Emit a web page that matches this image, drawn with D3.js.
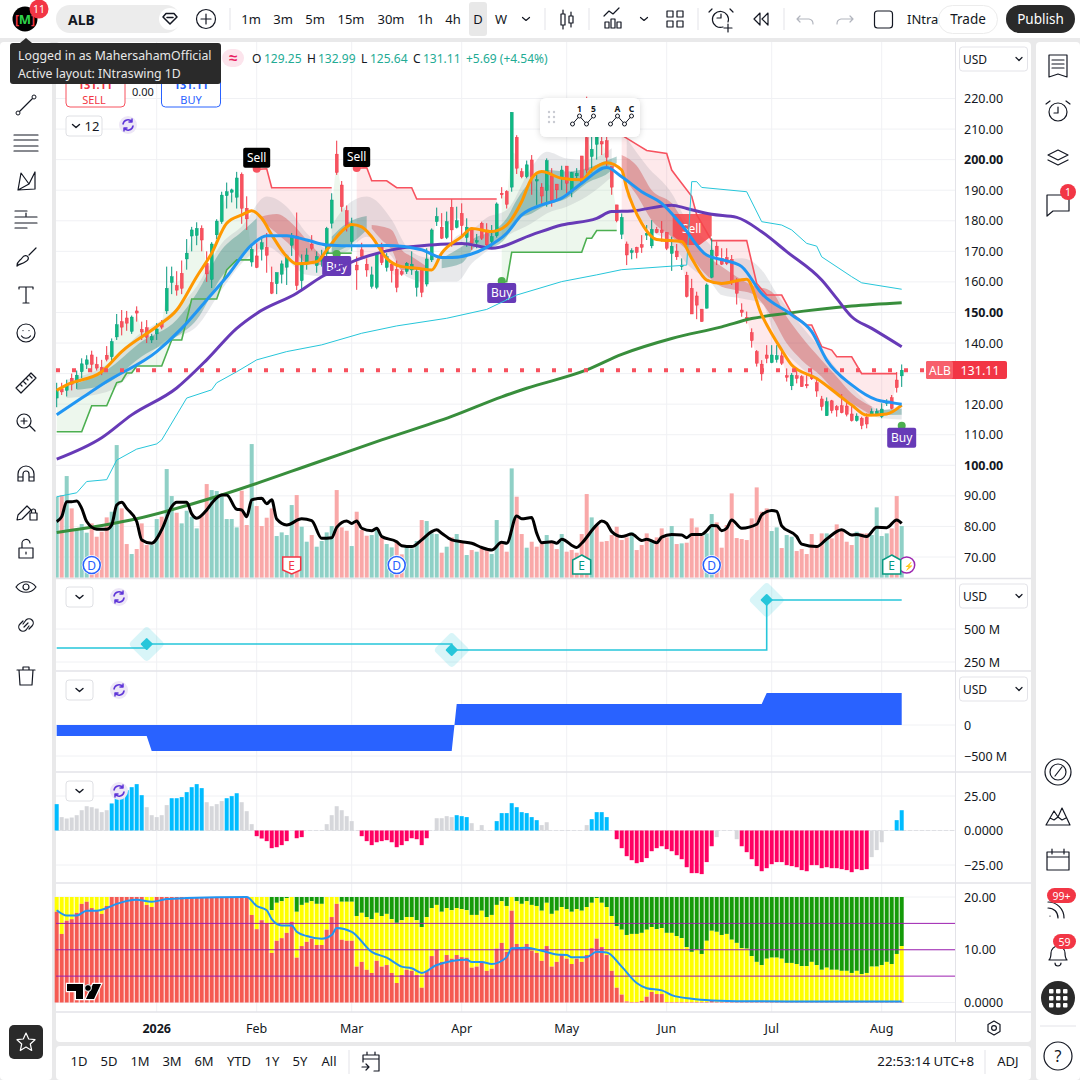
<!DOCTYPE html>
<html>
<head>
<meta charset="utf-8">
<script src="https://d3js.org/d3.v7.min.js"></script>
<style>
	body { margin: 0; background: #e9e9ea; }
	svg { display: block; font-family: "Noto Sans", sans-serif; }
</style>
</head>
<body>
<div id="canvas"></div>
<script>
// Candles, one value per trading day
const opens = [
	122,125,124.5,128.5,127,130.6,133,136.1,133,132,
	136,135.5,142,147,148.2,143.8,150.5,144.5,145,141,
	143,146.5,150.5,159.8,158.8,162.8,167.5,175,175.2,177.5,
	166.1,160.8,175.4,179.7,188.2,189.3,187.7,195.2,184.1,166.5,
	168.5,170.7,171.3,159.8,159.4,162.5,164.8,172,175,160.4,
	166,172.4,165.3,166.8,169.4,179.2,201.8,191.7,183.3,173.2,
	165.5,170.5,165.8,158.5,158.2,171.5,164.7,165.8,164.1,163.4,
	163.4,163.9,158.2,163.9,159.3,167.2,179.7,177.9,174.5,184.4,
	177.8,182.4,174.5,177,173,179.2,176.1,173.2,175.1,189,
	189.6,191,207.3,196.1,194.4,199.9,193,191,189.9,194.7,
	192,194.2,197.9,189.5,194.7,201.2,207.2,201,205,205.9,
	206.2,197.7,185.2,175.6,172.4,169.6,171.3,172.2,175.3,171.8,
	177.2,177,176.2,169.3,170.1,165,162.2,157.9,155.4,151.1,
	151.4,161.5,171.7,167.7,168,167.4,160.3,150.8,148.4,143.4,
	137.2,133.1,136.1,133.6,134.6,135.8,129.3,126,129.3,129,
	126.5,129,127,121.7,116.2,121.1,119.2,119.5,119.4,116.8,
	114.6,115.4,115.7,116.3,116.4,115.9,120.3,122.1,127.9,129.25]
const highs = [
	127,127,128,130,131,135,136,137.5,135.5,134.5,
	139,141.5,149.5,150.8,150.5,149,152,147,147.5,143,
	146.5,147.5,165,165,163.5,167,174,178,179.5,178.5,
	170,173,180.5,189.5,192.5,190.5,196,195.8,188,172,
	172.6,175,176,165,163,167,169,176,182.7,169,
	171,175.3,170,170.5,178,189,206.2,193,185,181,
	168.3,172.8,167.7,165,169.4,172.8,169.4,166,167,164,
	166.5,170,164.5,164.5,171,177.5,184.3,182.5,183,187,
	184.6,185.7,180.8,177,175.7,179.7,179.2,178.6,186,191,
	190,215.5,208,197.2,199.7,201.5,195.5,192.3,200.4,197.2,
	192,198,197.9,196,197.2,201.2,220.6,208.6,212,209,
	207.5,197.7,185.2,182.4,173.2,171,171.5,175.3,178.6,180.2,
	178,179.9,176.2,174.8,172.4,167.7,163.3,161,156.8,151.1,
	159.5,174.2,173.2,171,171,168.8,161.2,153,150.3,144.8,
	137.7,134.4,139.3,139.3,139.3,137.2,131.7,130.2,131.4,129.5,
	129.5,130.6,128.4,122.7,122.2,121.4,119.7,123.3,120.8,119.4,
	117,115.9,117,118.6,118.6,120.3,121.6,123,130.5,132.99]
const lows = [
	119,123,122.5,124.5,125,128.5,131.5,130.5,131,129.5,
	134,134,141,142.5,144,143,147,141,140,140,
	141,144.5,149.5,156,155.5,156,164,170,172,170,
	160,158,174,179,184,186,184,179,177,165,
	164.5,167,163,156,156,159.5,159,168.5,157.3,157,
	164,170.3,163,165,166,177.5,195,183,176.5,170,
	157.4,167.7,161.7,157.8,157.6,165.5,163.4,159.8,156.6,162,
	162.6,162.3,155.2,155,158.5,166.5,178.3,174,174,171.5,
	177.5,174.8,171.5,170.5,171,173.7,170.7,171.5,174.5,187.3,
	184,189.5,195.3,193.9,193.9,188.5,185.2,185.2,184.6,184.6,
	187,190.1,188,187.7,193.9,192.5,195.5,195.8,200,201.5,
	197.5,188.5,179.5,174,165.5,167.4,167.7,169.5,173.7,171,
	175.9,173.2,170.4,163.6,167.2,163.9,154.9,149.5,147.8,147,
	151.3,161.2,165.5,165.5,165.5,159,152.6,148.6,146.4,138.5,
	132.3,127.7,133.4,133.4,133.6,132.8,127.4,124.6,126.8,125.7,
	125.2,127.9,122.4,117.9,116.2,117,115.9,117,116,114.3,
	114.3,111.8,112.1,116.1,116.1,115.4,119.4,118.3,123.8,125.64]
const closes = [
	124.5,124,126.5,126.5,129.5,133.2,134.5,133,131.8,130.7,
	134.7,140.5,146,145.2,146.5,148.5,149.8,143.6,141.9,142.1,
	144.6,145.2,157.9,161.7,157.3,157.9,169.4,177,177.5,173.7,
	162.6,172.4,179.9,188.4,189.5,190.1,194,184.1,180.6,170.7,
	164.7,172.8,168.7,156.3,163.1,165.9,168.5,175.1,158.8,166.1,
	168.8,171,168.3,168.3,177.5,186.8,195.8,184.6,178.1,178.3,
	163.9,168.3,163.9,162.3,169.4,166.3,168.3,163.7,158.2,162.5,
	166.1,165.8,163.4,156.6,167.5,177,181.4,174.3,179.7,177,
	180,178.4,177.9,172.6,173.5,174.3,172.1,174.8,185.5,188.5,
	185.4,215.5,197.2,194.4,198.3,194.2,193.5,188.1,199.7,186.6,
	190.1,196.6,192.3,195.8,195.5,192.5,196.6,203.4,210,205.1,
	200.8,191,180,181.1,168.8,170.2,169.6,171.3,175.9,177.2,
	176.1,176.1,171,171.7,168.2,165.5,155.2,149.5,152.4,147,
	159,170.4,168.5,165.8,166,160.3,156.3,150,147.9,140.8,
	133.4,129.9,135,136.1,135.9,133.4,128.9,129.5,128.4,125.7,
	126,128.3,124.3,119.2,120.8,117.9,118.1,117.2,116.7,114.6,
	116.1,113,113.5,117.6,117.6,118.4,120.8,118.6,125.4,131.11]

// Volume (no axis on the pane, kept in the units)
const volumes = [
	243,248,305,208,143,161,135,163,123,138,
	181,198,398,208,101,71,86,163,98,98,
	176,183,326,245,195,163,201,183,148,188,
	281,263,260,243,176,176,151,261,158,401,
	215,155,180,208,125,136,128,218,248,153,
	108,128,93,110,136,155,263,151,141,95,
	198,143,126,128,143,121,101,91,108,70,
	91,88,110,173,170,133,131,75,93,121,
	131,105,68,83,78,93,88,71,173,103,
	78,328,243,131,90,108,93,103,128,105,
	86,131,78,83,75,131,251,181,155,108,
	110,128,153,113,121,136,83,98,133,108,
	121,148,121,155,101,103,105,178,151,125,
	133,191,166,90,158,253,119,116,113,178,
	271,198,208,140,151,89,128,123,80,86,
	71,131,93,133,133,118,160,146,108,98,
	138,133,133,128,211,125,133,148,245,155]
const volumeDir = [
	'grgrgggrrr','rggrrgrrrg','grggrggggr','rggggggrrg','rrrrggggrg',
	'grggggrrrg','rrrggrggrr','gggrgggrgr','grgrgrrggr','rgrrgrrrgr',
	'rgrrrrrgrr','rrrrrgrrrg','rrrgrgrrrr','ggrrrrrrrr','rrrggrggrr',
	'rrrrgrrrrr','grrggggrrg'].join('')

// Sampled studies on the price pane: bar numbers and values
const purpleIdx = [0,9,15,24,30,36,40,48,53,60,68,75,81,87,95,101,108,111,115,123,126,131,136,141,146,153,156,159,163,169]
const purpleVals = [102,109,116.5,125.3,134.5,144.8,149.7,156.3,161.7,167.2,170.8,172.1,172.6,171,175.4,178.6,180.8,183,183.2,185.1,184,182.1,181.1,176.4,169.9,160.6,154.6,148.6,144.8,138.8]
const greenIdx = [0,16,33,53,65,79,89,94,106,113,123,133,139,146,159,169]
const greenVals = [78,82.5,90.3,101.5,108.3,116,122.4,125.2,131.2,136.3,141.5,145.3,148,149.7,152.1,153.2]
const cyanIdx = [0,4,6,10,12,16,20,21,26,31,32,36,40,46,53,61,68,78,86,92,101,108,113,126,127,128,129,138,141,145,147,150,152,153,159,161,169]
const cyanVals = [89.7,91,94.7,95.3,101.7,105.3,107,108.3,122,124.7,127,130.6,134.5,137.2,139.4,143.2,145.6,148.1,151,155.7,160.1,162.3,164,165.5,192.8,192.8,190.9,189.5,179.7,178.6,177,172.6,171.7,168.2,161.7,159.7,157.6]
const orangeIdx = [0,2,9,13,20,24,28,31,34,37,39,41,43,46,48,52,54,57,59,61,63,66,69,72,75,77,81,83,87,90,93,95,97,101,105,107,110,113,114,117,120,125,127,130,133,138,141,145,147,152,156,159,162,166,169]
const orangeVals = [124.5,126.3,130.6,137.2,145.4,150.8,161.7,169.4,179.2,181.9,183.3,180.8,175.4,168.3,165.9,166.6,170.4,176.5,178.8,178,174.8,167.7,165,164.5,163.9,169.4,174.8,177.5,176.5,178.6,186.3,193.9,196.1,193.9,193.4,196.6,199,196.6,190.6,179.2,173.9,173.2,167.7,160.6,159.5,160.9,149.2,137.7,132.8,128.4,123.5,119.7,116.4,116.8,119.7]
const blueIdx = [0,5,10,20,25,30,34,39,42,46,50,54,60,66,73,77,79,86,90,93,97,101,105,110,113,117,121,125,130,134,137,141,147,151,154,159,164,167,169]
const blueVals = [116.5,122,127.4,137.2,144.8,154.1,161.7,172.1,175.1,175.1,173.7,172.1,171.8,171.9,170.5,168,168,171.3,175.9,181.9,185.2,187.4,192.3,197.4,194.4,189.5,185.7,178.6,168.8,166.9,165,156.2,149.2,143.7,134.4,126.3,121.4,120.5,120]
const blackIdx = [0,1,2,3,4,5,6,8,10,11,12,13,14,16,17,19,21,23,24,26,27,28,30,31,33,34,36,37,38,39,41,42,43,44,46,49,51,53,55,56,58,59,60,61,63,64,65,68,69,71,73,75,76,77,79,81,83,85,87,89,90,92,93,95,96,97,99,100,101,104,105,108,109,110,111,113,115,117,118,120,121,123,125,126,127,129,130,131,132,133,134,135,137,140,141,143,144,145,148,149,152,154,157,159,160,162,164,166,168,169]
const blackVals = [81.6,83.2,88.1,88.1,88.3,85.9,81.6,79.1,79.1,80.5,87,87.9,85.9,81.6,75.6,74.5,78.9,86.5,87.9,87.9,84.1,82.7,85.4,87.6,90.3,90.3,85.6,85.4,83.2,88.7,89.2,87.4,88.7,82.4,80.5,82.5,81.9,76.1,76.3,79.7,81.8,81,81.8,79.4,78.6,79.4,76.7,75,73.7,73.4,75.6,78.3,78.9,77.8,75.6,75,74.5,73.1,72.3,74.8,74.5,83.4,82.5,82.9,77.8,74.7,75,74.5,75.8,73.1,74.5,80.5,81.8,81,78.3,76.7,77.5,75.4,75.8,74.7,76.5,77.4,77.2,76.3,77.4,77.4,78.6,80.3,80.2,78.6,79.4,82.1,79.4,80.7,83.8,85.2,84.9,80.2,76.7,74.2,73.4,75.9,78.9,77.2,77.4,76.7,79.7,79.6,82.1,81]

// Stepped stop lines: green while long, red while short
const longStopIdx = [[0,5,7,10,12,13,14,15,16,21,23,25,27,32,34,36,39],[54,59],[89,90,91,105,106,107,108,112]]
const longStopVals = [[111,111,119.5,119.5,127,127.5,130.2,130.2,132.5,132.5,141,141,154.4,154.4,163.9,167.2,167.2],[169.4,169.4],[160.1,160.1,169.7,169.7,174.3,174.3,176.8,176.8]]
const shortStopIdx = [[40,42,43,55],[60,62,63,66,68,71,72,88],[113,116,118,122,123,124,127,128,131,138,140,142,145,147,150,151,153,155,156,159,161,168]]
const shortStopVals = [[196.8,197,190.8,190.8],[197.2,197.4,193.1,193.1,190.8,190.8,187.1,187.1],[208,205,203,202,196.6,194.4,188,182,173.5,173.5,159.5,155.7,155.7,149.7,145.9,145.9,138.8,137.7,135.5,135.5,130,130]]

// Ribbon behind the averages
const grayBandIdx = [[2,10,17,21,28,33,37,42,46,50,54],[55,58,62,67,70,74,77,80,83,86,90,95,98,102,106,111],[114,118,123,126,131,133,137,141,144,148,153,159,165,169]]
const grayBandTop = [[128,133,143.5,147.5,158.5,172.6,178.1,187.9,184.6,175.9,170.4],[178.5,185,187.9,180.3,171.5,168,169.5,175,177,181,183.5,197.7,202.6,200.4,199.9,203.7],[207,198,189,180,171.5,167,167.7,163.9,156.2,147.5,137.7,125.7,118,120]]
const grayBandBot = [[122,124,133.5,139.9,145.4,157.4,166.1,171.5,167.2,162.3,161.7],[168.5,170,174.8,168.3,161.7,160,160.1,160.1,166,170,175,179.2,182.4,184.6,187.9,194.4],[188,178,172.6,166,159.5,155.7,154.6,153,141,133.3,126.8,119.2,115.4,115]]
const tealBandIdx = [[4,10,17,24,28,33,37,40],[55,58,62],[77,81,84,87,90,92,95,98,102,106,111,112],[164,169]]
const tealBandTop = [[126.8,131.2,140.5,147.6,156.3,170.5,176.4,180.8],[174.8,179.2,181.6],[167.7,171.5,174.8,176.5,180.8,186.8,193.4,196.6,196.1,197.2,200.4,201],[118,118.5]]
const tealBandBot = [[124.7,126.8,135.6,142.1,147.6,161.7,168.3,173.7],[169.4,171.5,177],[164.5,166.1,171.5,171.5,174.8,180.3,182.4,185.2,187.4,192.3,196.6,199],[116.4,116.5]]
const redBandIdx = [[41,44,47,50,53],[63,65,67,69,71,74],[113,116,119,123,126,129,133,136,139,143,146,149,153,156,159,163]]
const redBandTop = [[181.4,182.2,179.2,173.7,168.3],[178.6,178.1,177,170.5,168.3,165],[201.5,198,190,185.7,178,170.4,165,161.7,159,156.8,148.6,142,134.4,129,123.5,119.2]]
const redBandBot = [[180,175.9,171.5,166.1,165.5],[177.5,173.7,170.5,163.9,163.9,163.9],[195,188.4,180.2,174.8,170.4,163.9,158.4,157.3,156.2,148.6,139.9,134.4,129,123.5,120.3,116.4]]

// Signals and events
const sellIdx = [40,60]
const sellPrice = [197,197.3]
const bigSellIdx = [127]
const bigSellPrice = [177]
const buyIdx = [56,89,169]
const buyPrice = [169.1,160.3,112.9]
const eventIdx = [7,47,68,105,131,167]
const eventKind = ['D','Er','D','Eg','D','Eg']

// Pane 2: step line with diamonds
const stepIdx = [0,18,79,142,169]
const stepVals = [356,386,341,720,720]
const diamondIdx = [18,79,142]
const diamondVals = [386,341,720]

// Pane 3: blue area
const areaIdx = [0,18,19,79,80,141,142,169]
const areaVals = [-177,-177,-420,-420,339,339,516,516]

// Pane 4: histogram, colour class per bar (blue list, gray list, pink otherwise)
const histVals = [
	19.1,9.7,8.7,9.4,11.1,14.7,17.6,16.9,15.9,13.3,
	14.7,19.6,25.6,27.5,29.2,31.4,33.6,25.6,16.9,11.1,
	9.7,11.1,18.4,23.4,23.4,24.2,27.8,31.4,33.6,30.7,
	20.5,17.6,19.1,21.3,23.4,24.9,27,20.5,14,4.6,
	-4.1,-5.8,-7.7,-12.8,-12.1,-10.6,-7.7,0,-5.6,-4.8,
	0,0,0,0,4.6,11.1,17.6,14.7,10.4,6.8,
	0,-4.1,-7.7,-10.6,-8.5,-7.7,-7,-8.5,-12.1,-10.6,
	-7.7,-5.6,-6.3,-10.6,-5.6,0,8.9,8.9,10.4,9.7,
	11.1,10.4,9.7,5.3,0,3.9,0,0,6.8,12.6,
	12.6,19.8,16.9,13.3,12.6,9.7,7.5,3.9,6,0,
	0,0,0,0,0,0,3.9,8.2,13.3,13.3,
	9.7,0,-6.3,-12.8,-18.6,-21.5,-23.7,-22.9,-20,-15,
	-12.8,-11.4,-13.5,-15,-17.9,-20.8,-26.6,-30.9,-30.9,-31.6,
	-22.9,-11.4,-4.8,0,0,0,-6.3,-11.4,-15.7,-20.8,
	-25.8,-29.5,-27.3,-24.4,-22.9,-22.9,-25.1,-25.8,-26.6,-28.7,
	-29.5,-25.1,-25.1,-27.3,-26.6,-27.3,-27.3,-28,-28.7,-30.2,
	-28,-28.7,-28,-19.3,-14.2,-8.5,0,0,7.5,14.7]
const histBlueIdx = [0,11,12,13,14,15,16,17,23,24,25,26,27,28,29,34,35,36,80,81,82,88,89,90,91,92,93,94,95,96,107,108,109,110,168,169]
const histGrayNegIdx = [132,136,163,164,165]

// Pane 5: stacked red / yellow / green up to 20, plus a blue line
const redTops = [
	17.2,13,15.5,15.8,17,18.7,19.1,17.9,17.5,16.8,
	18.3,20,20,20,20,20,20,20,18.5,18.1,
	20,20,20,20,20,20,20,20,20,20,
	20,20,20,20,20,20,20,20,20,16.6,
	13.9,15.6,15,9.4,11.7,12.2,13.2,15.3,8.5,10.7,
	11.5,12.1,10.9,10.9,13.8,16.2,18.7,11.9,11.7,11.7,
	6.8,7.7,6.2,5.6,7.9,6.8,7.1,5.6,3.7,5.2,
	6.2,6,5.2,2.8,6,8.8,10,7.7,9,8.3,
	9,8.6,8.5,6.6,6.8,7.7,6,6.4,10.2,11.3,
	9.6,17.4,11.1,10.2,11.1,9.8,9.4,7.9,10.7,6.8,
	7.7,9,8.3,7.3,8.3,7.7,9,10.3,12.1,10.5,
	9,6,2.8,1.5,0.2,0.1,0.1,0.3,1.1,2,
	1.6,1.6,0.1,0.1,0.1,0.1,0.1,0.1,0.1,0.1,
	0.1,0.4,0.1,0.1,0.1,0.1,0.1,0.1,0.1,0.1,
	0.1,0.1,0.1,0.1,0.1,0.1,0.1,0.1,0.1,0.1,
	0.1,0.1,0.1,0.1,0.1,0.1,0.1,0.1,0.1,0.1,
	0.1,0.1,0.1,0.1,0.1,0.1,0.1,0.1,0.1,0.1]
const yellowTops = [
	20,20,20,20,20,20,20,20,20,20,
	20,20,20,20,20,20,20,20,20,20,
	20,20,20,20,20,20,20,20,20,20,
	20,20,20,20,20,20,20,20,20,20,
	20,20,20,17.5,18.9,19.2,19.8,20,17.2,18.5,
	18.9,19.2,18.7,18.7,20,20,20,19.1,19.1,19.1,
	16.4,17,16.2,15.8,17,16.4,16.8,15.8,15.1,15.6,
	16.2,16.2,15.6,14.3,16.2,17.9,18.5,17.2,17.9,17.5,
	17.9,17.7,17.5,16.6,16.6,17.4,16.2,16.6,18.5,19.2,
	18.3,20,19.2,18.7,19.2,18.5,18.3,17.4,18.9,16.8,
	17.4,18.1,17.7,17.2,17.7,17.4,18.1,18.9,19.8,18.9,
	18.1,16.4,14.5,13.8,12.8,13,13,13.2,13.8,14.3,
	13.9,14.1,13.2,13.2,12.6,12.2,10.5,9.6,10,9.2,
	11.7,13.6,13.4,12.8,13,11.9,11.3,10.3,10.2,8.8,
	7.7,7.1,8.3,8.5,8.5,8.3,7.5,7.5,7.3,6.9,
	6.9,7.7,7.1,6.2,6.6,6.2,6.2,6,6,5.6,
	6,5.4,5.6,6.8,6.8,7.1,7.7,7.3,9.2,10.7]
const flowIdx = [0,2,4,6,8,10,12,16,19,22,26,38,40,42,43,45,47,48,50,53,55,56,59,63,66,69,71,73,76,82,83,85,87,90,91,94,97,100,102,103,106,108,110,113,116,118,121,123,127,131,138,151,169]
const flowVals = [17.5,16.5,16.5,17.4,17.4,17.9,18.7,19.5,19.1,19.6,19.8,20,18.3,17.5,15.8,14.6,14.6,13.4,12.6,12.1,12.8,14.1,13.4,9.6,8.5,6.8,6.5,5.6,7.1,8.1,7.7,7.7,7.3,8.6,10.3,10.4,9.8,9.1,9,8.6,8.6,9.6,9.5,6.8,3.7,2.7,2.3,1.4,0.7,0.4,0.25,0.2,0.2]
const flowLevels = [5,10,15]

// Tick labels
const priceTicks = d3.range(70, 230, 10)
const boldPriceTicks = [100,150,200]
const pane2Ticks = [500,250]
const pane3Ticks = [0,-500]
const pane4Ticks = [25,0,-25]
const pane5Ticks = [20,10,0]
const timeTickIdx = [20,40,59,81,102,122,143,165]
const timeTickLabels = ['2026','Feb','Mar','Apr','May','Jun','Jul','Aug']
const intervals = ['1m','3m','5m','15m','30m','1h','4h','D','W']
const intervalX = [251,283,315,351,391,425,453,478,501]
const ranges = ['1D','5D','1M','3M','6M','YTD','1Y','5Y','All']
const rangeX = [79,109,140,172,204,239,272,300,329]

const colors = {
	up: '#0fb981', upWick: '#089981', down: '#f7525f', downWick: '#f23645',
	volUp: '#8fd0c6', volDown: '#f9a8a8', grid: '#f0f1f4', sep: '#e3e3e8', ink: '#131722',
	orange: '#ff9800', blue: '#2196f3', purple: '#673ab7', trend: '#388e3c', cyan: '#26c6da',
	stopUp: '#4caf50', stopDown: '#f7525f', buy: '#673ab7',
}

const svg = d3.select('#canvas').append('svg').attr('width', 1080).attr('height', 1080)
const defs = svg.append('defs')
defs.append('clipPath').attr('id', 'clip-main').append('rect').attr('x', 56).attr('y', 42).attr('width', 899).attr('height', 536)
defs.append('filter').attr('id', 'soft').attr('x', '-20%').attr('y', '-20%').attr('width', '140%').attr('height', '150%')
	.append('feDropShadow').attr('dx', 0).attr('dy', 1).attr('stdDeviation', 3).attr('flood-opacity', 0.16)

// Scales
const x = d3.scaleLinear().domain([0, 169]).range([56.7, 901.7])
const y = d3.scaleLinear().domain([70, 220]).range([557, 98.5])
const yVol = d3.scaleLinear().domain([0, 400]).range([577.7, 444.4])
const yP2 = d3.scaleLinear().domain([250, 500]).range([662, 629])
const yP3 = d3.scaleLinear().domain([-500, 0]).range([756, 725])
const yP4 = d3.scaleLinear().domain([-25, 25]).range([865, 796])
const yP5 = d3.scaleLinear().domain([0, 20]).range([1002.5, 897])

function zip(idx, vals) {
	return idx.map((d, i) => [d, vals[i]])
}
function label(g, str, tx, ty, o = {}) {
	return g.append('text').attr('x', tx).attr('y', ty).text(str)
		.attr('font-size', o.size || 13).attr('fill', o.fill || colors.ink)
		.attr('text-anchor', o.anchor || 'middle').attr('dominant-baseline', 'central')
		.attr('font-weight', o.weight || 400)
}
function icon(g, d, ix, iy, o = {}) {
	return g.append('path').attr('d', d).attr('transform', `translate(${ix},${iy})`)
		.attr('fill', o.fill || 'none').attr('stroke', o.stroke || colors.ink)
		.attr('stroke-width', o.width || 1.2).attr('stroke-linecap', 'round').attr('stroke-linejoin', 'round')
}

// Panels
const base = svg.append('g')
const panel = (px, py, w, h, r = 4) => base.append('rect').attr('x', px).attr('y', py).attr('width', w).attr('height', h).attr('rx', r).attr('fill', '#fff')
panel(0, 0, 1080, 38, 0)
panel(0, 42, 52, 1038, 4)
panel(56, 42, 975, 1000, 4)
panel(56, 1046, 975, 34, 4)
panel(1036, 42, 44, 1038, 4)

// Grid
const grid = svg.append('g').attr('stroke', colors.grid).attr('stroke-width', 1)
priceTicks.forEach(t => grid.append('line').attr('x1', 56).attr('x2', 955).attr('y1', y(t)).attr('y2', y(t)))
timeTickIdx.forEach(t => grid.append('line').attr('x1', x(t)).attr('x2', x(t)).attr('y1', 42).attr('y2', 1012))
pane2Ticks.forEach(t => grid.append('line').attr('x1', 56).attr('x2', 955).attr('y1', yP2(t)).attr('y2', yP2(t)))
pane3Ticks.forEach(t => grid.append('line').attr('x1', 56).attr('x2', 955).attr('y1', yP3(t)).attr('y2', yP3(t)))
pane4Ticks.forEach(t => grid.append('line').attr('x1', 56).attr('x2', 955).attr('y1', yP4(t)).attr('y2', yP4(t)))
pane5Ticks.forEach(t => grid.append('line').attr('x1', 56).attr('x2', 955).attr('y1', yP5(t)).attr('y2', yP5(t)))

// Volume pane, under everything else
const main = svg.append('g').attr('clip-path', 'url(#clip-main)')
main.append('g').selectAll('rect').data(volumes).enter().append('rect')
	.attr('x', (d, i) => x(i) - 2).attr('width', 4)
	.attr('y', d => yVol(d)).attr('height', d => yVol(0) - yVol(d))
	.attr('fill', (d, i) => volumeDir[i] === 'g' ? colors.volUp : colors.volDown)

// Fills between the stops and the mid of each candle
const midPrice = i => (highs[i] + lows[i]) / 2
function stopFill(idx, vals, fill) {
	const stop = d3.scaleLinear().domain(idx).range(vals)
	const bars = d3.range(idx[0], idx[idx.length - 1] + 1)
	main.append('path').datum(bars).attr('fill', fill)
		.attr('d', d3.area().x(i => x(i)).y0(i => y(stop(i))).y1(i => y(midPrice(i))))
}
longStopIdx.forEach((idx, k) => stopFill(idx, longStopVals[k], 'rgba(76,175,80,0.1)'))
shortStopIdx.forEach((idx, k) => stopFill(idx, shortStopVals[k], 'rgba(242,54,69,0.11)'))

// Ribbon
function band(idx, upper, lower, fill) {
	main.append('path').datum(idx.map((d, i) => [d, upper[i], lower[i]])).attr('fill', fill)
		.attr('d', d3.area().curve(d3.curveMonotoneX).x(d => x(d[0])).y0(d => y(d[1])).y1(d => y(d[2])))
}
grayBandIdx.forEach((idx, k) => band(idx, grayBandTop[k], grayBandBot[k], 'rgba(120,123,134,0.17)'))
tealBandIdx.forEach((idx, k) => band(idx, tealBandTop[k], tealBandBot[k], 'rgba(0,110,95,0.3)'))
redBandIdx.forEach((idx, k) => band(idx, redBandTop[k], redBandBot[k], 'rgba(205,50,50,0.34)'))

// Stop lines
const stopLine = d3.line().x(d => x(d[0])).y(d => y(d[1]))
longStopIdx.forEach((idx, k) => main.append('path').datum(zip(idx, longStopVals[k])).attr('d', stopLine).attr('fill', 'none').attr('stroke', colors.stopUp).attr('stroke-width', 1.6))
shortStopIdx.forEach((idx, k) => main.append('path').datum(zip(idx, shortStopVals[k])).attr('d', stopLine).attr('fill', 'none').attr('stroke', colors.stopDown).attr('stroke-width', 1.6))

// Candles
const candles = main.append('g').selectAll('g').data(closes).enter().append('g')
candles.append('line')
	.attr('x1', (d, i) => x(i)).attr('x2', (d, i) => x(i))
	.attr('y1', (d, i) => y(highs[i])).attr('y2', (d, i) => y(lows[i]))
	.attr('stroke', (d, i) => d >= opens[i] ? colors.upWick : colors.downWick)
candles.append('rect')
	.attr('x', (d, i) => x(i) - 1.5).attr('width', 3)
	.attr('y', (d, i) => y(Math.max(d, opens[i])))
	.attr('height', (d, i) => Math.max(1.5, Math.abs(y(d) - y(opens[i]))))
	.attr('fill', (d, i) => d >= opens[i] ? colors.up : colors.down)
	.attr('stroke', (d, i) => d >= opens[i] ? colors.upWick : colors.downWick).attr('stroke-width', 0.4)

// Signals, under the averages
function signal(i, price, str, fill, dir, dot) {
	const cx = x(i), cy = y(price)
	main.append('circle').attr('cx', cx).attr('cy', cy).attr('r', 4).attr('fill', dot)
	const w = str === 'Buy' ? 29 : 27, h = 20
	const boxTop = dir > 0 ? cy + 2 : cy - 21
	main.append('rect').attr('x', cx - w / 2).attr('y', boxTop).attr('width', w).attr('height', h).attr('rx', 2).attr('fill', fill)
	label(main, str, cx, boxTop + 10, {size: 12, fill: '#fff'})
}
main.append('path').attr('fill', 'rgba(246,70,75,0.88)')
	.attr('d', `M${x(bigSellIdx[0]) - 19},${y(bigSellPrice[0]) - 16}h39v22l-12,9h-15l-12,-9z`)
label(main, 'Sell', x(bigSellIdx[0]), y(bigSellPrice[0]) - 1, {size: 12, fill: '#fff'})
sellIdx.forEach((d, k) => signal(d, sellPrice[k], 'Sell', '#000', -1, '#f7525f'))
buyIdx.forEach((d, k) => signal(d, buyPrice[k], 'Buy', colors.buy, 1, colors.stopUp))

// Lines on the price pane
const smooth = d3.line().curve(d3.curveMonotoneX).x(d => x(d[0])).y(d => y(d[1]))
const straight = d3.line().x(d => x(d[0])).y(d => y(d[1]))
main.append('path').datum(zip(greenIdx, greenVals)).attr('d', smooth).attr('fill', 'none').attr('stroke', colors.trend).attr('stroke-width', 3)
main.append('path').datum(zip(purpleIdx, purpleVals)).attr('d', smooth).attr('fill', 'none').attr('stroke', colors.purple).attr('stroke-width', 3)
main.append('path').datum(zip(cyanIdx, cyanVals)).attr('d', straight).attr('fill', 'none').attr('stroke', colors.cyan).attr('stroke-width', 1)
main.append('path').datum(zip(orangeIdx, orangeVals)).attr('d', smooth).attr('fill', 'none').attr('stroke', colors.orange).attr('stroke-width', 3)
main.append('path').datum(zip(blueIdx, blueVals)).attr('d', smooth).attr('fill', 'none').attr('stroke', colors.blue).attr('stroke-width', 3)
main.append('path').datum(zip(blackIdx, blackVals)).attr('d', smooth).attr('fill', 'none').attr('stroke', '#000').attr('stroke-width', 3)

// Last price
main.append('line').attr('x1', 56).attr('x2', 955).attr('y1', y(closes[169])).attr('y2', y(closes[169]))
	.attr('stroke', colors.down).attr('stroke-width', 4).attr('stroke-dasharray', '4 12')

// Earnings and dividend badges on the volume pane
main.append('circle').attr('cx', x(170)).attr('cy', 565).attr('r', 8).attr('fill', '#fff').attr('stroke', '#9c27b0').attr('stroke-width', 1.5)
label(main, '⚡', x(170) + 2, 565, {size: 8, fill: '#9c27b0'})
eventIdx.forEach((d, k) => {
	const kind = eventKind[k], cx = x(d), cy = 565
	if (kind === 'D') {
		main.append('circle').attr('cx', cx).attr('cy', cy).attr('r', 10).attr('fill', '#fff')
		main.append('circle').attr('cx', cx).attr('cy', cy).attr('r', 8.5).attr('fill', '#fff').attr('stroke', '#2962ff').attr('stroke-width', 1.6)
		label(main, 'D', cx, cy, {size: 12, fill: '#2962ff'})
	} else {
		const col = kind === 'Er' ? '#f23645' : '#089981'
		const shape = kind === 'Er' ? 'M-9,-8h18v13l-9,4l-9,-4z' : 'M0,-10l9,5v14h-18v-14z'
		main.append('path').attr('d', shape).attr('transform', `translate(${cx},${cy})`).attr('fill', '#fff').attr('stroke', col).attr('stroke-width', 1.5)
		label(main, 'E', cx, cy, {size: 12, fill: col})
	}
})

// Pane 2
const p2 = svg.append('g')
p2.append('path').datum(zip(stepIdx, stepVals)).attr('fill', 'none').attr('stroke', colors.cyan).attr('stroke-width', 1.6)
	.attr('d', d3.line().curve(d3.curveStepAfter).x(d => x(d[0])).y(d => yP2(d[1])))
diamondIdx.forEach((d, k) => {
	const t = `translate(${x(d)},${yP2(diamondVals[k])}) rotate(45)`
	p2.append('rect').attr('x', -13).attr('y', -13).attr('width', 26).attr('height', 26).attr('rx', 4).attr('transform', t).attr('fill', 'rgba(38,198,218,0.18)')
	p2.append('rect').attr('x', -4.5).attr('y', -4.5).attr('width', 9).attr('height', 9).attr('rx', 1).attr('transform', t).attr('fill', colors.cyan)
})

// Pane 3
svg.append('path').datum(zip(areaIdx, areaVals)).attr('fill', '#2962ff')
	.attr('d', d3.area().x(d => x(d[0])).y0(yP3(0)).y1(d => yP3(d[1])))

// Pane 4
const p4 = svg.append('g')
p4.append('line').attr('x1', 56).attr('x2', 955).attr('y1', yP4(0)).attr('y2', yP4(0)).attr('stroke', '#dfe0e4').attr('stroke-dasharray', '4 2')
function histColor(d, i) {
	if (histBlueIdx.includes(i)) return '#00bcff'
	if (d > 0 || histGrayNegIdx.includes(i)) return '#d6d7db'
	return '#ff0062'
}
p4.selectAll('rect').data(histVals).enter().append('rect')
	.attr('x', (d, i) => x(i) - 2).attr('width', 4)
	.attr('y', d => yP4(Math.max(d, 0))).attr('height', d => Math.abs(yP4(d) - yP4(0)))
	.attr('fill', histColor)

// Pane 5
const p5 = svg.append('g')
p5.selectAll('.green').data(yellowTops).enter().append('rect').attr('class', 'green').attr('x', (d, i) => x(i) - 2).attr('width', 4)
	.attr('y', yP5(20)).attr('height', d => yP5(d) - yP5(20)).attr('fill', '#149b09')
p5.selectAll('.yellow').data(yellowTops).enter().append('rect').attr('class', 'yellow').attr('x', (d, i) => x(i) - 2).attr('width', 4)
	.attr('y', d => yP5(d)).attr('height', (d, i) => yP5(redTops[i]) - yP5(d)).attr('fill', '#ffff00')
p5.selectAll('.red').data(redTops).enter().append('rect').attr('class', 'red').attr('x', (d, i) => x(i) - 2).attr('width', 4)
	.attr('y', d => yP5(d)).attr('height', d => yP5(0) - yP5(d)).attr('fill', '#f55a52')
flowLevels.forEach(l => p5.append('line').attr('x1', 56).attr('x2', 955).attr('y1', yP5(l)).attr('y2', yP5(l)).attr('stroke', '#9c1fb0').attr('stroke-width', 1))
p5.append('path').datum(zip(flowIdx, flowVals)).attr('fill', 'none').attr('stroke', colors.blue).attr('stroke-width', 2)
	.attr('d', d3.line().curve(d3.curveMonotoneX).x(d => x(d[0])).y(d => yP5(d[1])))
// TradingView mark
const tv = p5.append('g').attr('transform', 'translate(67,983)')
tv.append('path').attr('d', 'M0,1h16v15h-7v-8h-9zM19,16l7,-15h8l-7,15z').attr('fill', '#000').attr('stroke', '#fff').attr('stroke-width', 2.4).attr('paint-order', 'stroke')
tv.append('circle').attr('cx', 21).attr('cy', 5).attr('r', 3.4).attr('fill', '#000').attr('stroke', '#fff').attr('stroke-width', 1)

// Pane separators and axes
const seps = svg.append('g').attr('stroke', colors.sep).attr('stroke-width', 1.5)
;[578.5, 671, 772, 883, 1012].forEach(py => seps.append('line').attr('x1', 56).attr('x2', 1031).attr('y1', py).attr('y2', py))
seps.append('line').attr('x1', 955.5).attr('x2', 955.5).attr('y1', 42).attr('y2', 1042).attr('stroke-width', 1)

function rightAxis(scale, ticks, fmt) {
	const g = svg.append('g').attr('transform', 'translate(964,0)')
		.call(d3.axisRight(scale).tickValues(ticks).tickSize(0).tickPadding(0).tickFormat(fmt))
	g.select('.domain').remove()
	g.selectAll('text').attr('font-size', 12.5).attr('font-family', '"Noto Sans", sans-serif').attr('fill', '#131722')
	return g
}
// the 130 label sits behind the last price tag
rightAxis(y, priceTicks.filter(t => t !== 130), d3.format('.2f')).selectAll('text').attr('font-weight', d => boldPriceTicks.includes(d) ? 700 : 400)
rightAxis(yP2, pane2Ticks, d => d + ' M')
rightAxis(yP3, pane3Ticks, d => d === 0 ? '0' : '−500 M')
rightAxis(yP4, pane4Ticks, d => d === 0 ? '0.0000' : (d < 0 ? '−' : '') + Math.abs(d).toFixed(2))
rightAxis(yP5, pane5Ticks, d => d === 0 ? '0.0000' : d.toFixed(2))

timeTickIdx.forEach((d, k) => label(svg, timeTickLabels[k], x(d), 1028, {size: 12.5, weight: k === 0 ? 700 : 400}))
icon(svg, 'M0,-7l6,3.5v7l-6,3.5l-6,-3.5v-7zM2.4,0a2.4,2.4 0 1 1 -4.8,0a2.4,2.4 0 1 1 4.8,0', 994, 1028)

// Last price tag
svg.append('rect').attr('x', 926).attr('y', 361).attr('width', 81).attr('height', 18).attr('rx', 2).attr('fill', '#f23645')
svg.append('rect').attr('x', 926).attr('y', 361).attr('width', 27).attr('height', 18).attr('rx', 2).attr('fill', '#f7606b')
label(svg, 'ALB', 940, 370, {size: 12, fill: '#fff'})
label(svg, '131.11', 980, 370, {size: 12.5, fill: '#fff'})

// Currency selectors and pane buttons
function usd(py) {
	svg.append('rect').attr('x', 959.5).attr('y', py).attr('width', 68).attr('height', 24).attr('rx', 3).attr('fill', '#fff').attr('stroke', '#e3e3e8')
	label(svg, 'USD', 963, py + 12, {size: 12, anchor: 'start'})
	icon(svg, 'M-3,-1.5l3,3l3,-3', 1019, py + 12)
}
usd(47); usd(584); usd(677)
function paneBtn(py, str) {
	svg.append('rect').attr('x', 66).attr('y', py).attr('width', str ? 36 : 27).attr('height', 20).attr('rx', 3).attr('fill', '#fff').attr('stroke', '#dfe0e4')
	icon(svg, 'M-3.5,-1.5l3.5,3l3.5,-3', str ? 76 : 79.5, py + 10, {width: 1.4})
	if (str) label(svg, str, 92, py + 10, {size: 13})
}
function refreshBtn(cx, cy) {
	svg.append('circle').attr('cx', cx).attr('cy', cy).attr('r', 9).attr('fill', '#ede7f6')
	icon(svg, 'M-5,-1a5,5 0 0 1 9,-2M5,1a5,5 0 0 1 -9,2M4,-6v3h-3M-4,6v-3h3', cx, cy, {stroke: '#5e35d8', width: 1.5})
}
paneBtn(116, '12'); refreshBtn(128, 125)
paneBtn(587); refreshBtn(119, 597)
paneBtn(680); refreshBtn(119, 690)
paneBtn(781); refreshBtn(119, 791)

// Floating Elliott toolbar
const elliott = svg.append('g')
elliott.append('rect').attr('x', 540).attr('y', 98).attr('width', 100).attr('height', 39).attr('rx', 6).attr('fill', '#fff').attr('filter', 'url(#soft)')
d3.cross(d3.range(3), d3.range(2)).forEach(([r, c]) => elliott.append('circle').attr('cx', 549 + c * 5).attr('cy', 112 + r * 5).attr('r', 1.2).attr('fill', '#c9cbd2'))
const wave = 'M-10,15l7,-8l7,8l7,-8'
const waveDots = [[-10, 15], [-3, 7], [4, 15], [11, 7]]
;[[583, '1', '5'], [621, 'A', 'C']].forEach(([cx, a, b]) => {
	icon(elliott, wave, cx - 0.5, 109, {width: 1})
	waveDots.forEach(([dx, dy]) => elliott.append('circle').attr('cx', cx - 0.5 + dx).attr('cy', 109 + dy).attr('r', 2).attr('fill', '#fff').attr('stroke', '#131722'))
	label(elliott, a, cx - 3.5, 108, {size: 8.5, weight: 700})
	label(elliott, b, cx + 10.5, 108, {size: 8.5, weight: 700})
})

// Legend row
const legendParts = [['O', 252], ['129.25', 264], ['H', 307], ['132.99', 318], ['L', 361], ['125.64', 370], ['C', 413], ['131.11', 423]]
legendParts.forEach(([t, lx], k) => label(svg, t, lx, 58, {size: 12, anchor: 'start', fill: k % 2 ? '#22ab94' : colors.ink}))
label(svg, '+5.69 (+4.54%)', 466, 58, {size: 12, anchor: 'start', fill: '#22ab94'})
svg.append('rect').attr('x', 222).attr('y', 49).attr('width', 22).attr('height', 18).attr('rx', 9).attr('fill', '#fce4ec')
label(svg, '≈', 233, 57, {size: 15, fill: '#e91e63', weight: 700})

// Buy / sell boxes with the tooltip over them
svg.append('rect').attr('x', 66).attr('y', 70).attr('width', 59).attr('height', 37).attr('rx', 4).attr('fill', '#fff').attr('stroke', '#f7525f')
svg.append('rect').attr('x', 161.5).attr('y', 70).attr('width', 59).attr('height', 37).attr('rx', 4).attr('fill', '#fff').attr('stroke', '#2962ff')
label(svg, '131.11', 95, 84, {size: 11, fill: '#f23645', weight: 700})
label(svg, '131.11', 191, 84, {size: 11, fill: '#2962ff', weight: 700})
label(svg, 'SELL', 94, 99, {size: 11, fill: '#f23645'})
label(svg, 'BUY', 191, 99, {size: 11, fill: '#2962ff'})
label(svg, '0.00', 143, 91, {size: 11})
svg.append('path').attr('d', 'M20,43l6,-5l6,5z').attr('fill', '#2a2a2a')
svg.append('rect').attr('x', 10).attr('y', 43).attr('width', 211).attr('height', 41).attr('rx', 3).attr('fill', '#2a2a2a')
label(svg, 'Logged in as MahersahamOfficial', 18, 55, {size: 12.3, fill: '#e8e8e8', anchor: 'start'})
label(svg, 'Active layout: INtraswing 1D', 18, 73.5, {size: 12.3, fill: '#e8e8e8', anchor: 'start'})

// Top bar
const topBar = svg.append('g')
topBar.append('circle').attr('cx', 25).attr('cy', 19).attr('r', 12.5).attr('fill', '#000')
label(topBar, 'M', 25, 19, {size: 13, fill: '#2fd14a', weight: 700})
label(topBar, '[', 17, 19, {size: 12, fill: '#f23645', weight: 700})
label(topBar, ']', 33, 19, {size: 12, fill: '#f23645', weight: 700})
topBar.append('circle').attr('cx', 39).attr('cy', 9).attr('r', 9.5).attr('fill', '#f23645')
label(topBar, '11', 39, 9, {size: 10.5, fill: '#fff'})
topBar.append('rect').attr('x', 56).attr('y', 5).attr('width', 124).attr('height', 28).attr('rx', 14).attr('fill', '#ececec')
label(topBar, 'ALB', 68, 19, {size: 14, weight: 700, anchor: 'start'})
topBar.append('circle').attr('cx', 170).attr('cy', 19).attr('r', 11).attr('fill', '#fff')
icon(topBar, 'M-7,-2l3,-3.5h8l3,3.5l-7,7zM-3,-1.5h6', 170, 19, {width: 1.5})
topBar.append('circle').attr('cx', 206).attr('cy', 19).attr('r', 9.5).attr('fill', 'none').attr('stroke', colors.ink).attr('stroke-width', 1.2)
icon(topBar, 'M-5,0h10M0,-5v10', 206, 19)
topBar.append('rect').attr('x', 469).attr('y', 2).attr('width', 18).attr('height', 34).attr('rx', 3).attr('fill', '#e8e8e8')
intervals.forEach((t, k) => label(topBar, t, intervalX[k], 19, {size: 13}))
icon(topBar, 'M-3.5,-1.5l3.5,3l3.5,-3', 526, 19)
;[230, 545, 589, 698, 784].forEach(sx => topBar.append('line').attr('x1', sx).attr('x2', sx).attr('y1', 8).attr('y2', 30).attr('stroke', '#e3e3e8'))
icon(topBar, 'M-5,-5h4v11h-4zM-3,-5v-4M-3,6v4M3,-3h4v7h-4zM5,-3v-4M5,4v4', 566, 19)
icon(topBar, 'M-8,9v-6h4v6zM-2,9v-9h4v9zM4,9v-6h4v6zM-9,-3l5,-5l4,3l6,-6', 613, 19)
icon(topBar, 'M-3.5,-1.5l3.5,3l3.5,-3', 644, 19)
icon(topBar, 'M-8,-8h6v6h-6zM2,-8h6v6h-6zM-8,2h6v6h-6zM2,2h6v6h-6z', 675, 19)
icon(topBar, 'M7,4a8,8 0 1 0 -5,5M0,-4v4h-4M-9,-9l-3,3M9,-9l3,3M7,6v8M3,10h8', 721, 18)
icon(topBar, 'M-1,-6l-6,6l6,6zM7,-6l-6,6l6,6z', 761, 19)
icon(topBar, 'M-6,-3l-3,3l3,3M-9,0h12a5,5 0 0 1 4,5', 806, 19, {stroke: '#b2b5be'})
icon(topBar, 'M6,-3l3,3l-3,3M9,0h-12a5,5 0 0 0 -4,5', 844, 19, {stroke: '#b2b5be'})
topBar.append('rect').attr('x', 874.5).attr('y', 11).attr('width', 18).attr('height', 17).attr('rx', 3).attr('fill', 'none').attr('stroke', colors.ink).attr('stroke-width', 1.2)
label(topBar, 'INtra', 907, 19, {size: 13, anchor: 'start'})
topBar.append('rect').attr('x', 938.5).attr('y', 5.5).attr('width', 59).attr('height', 28).attr('rx', 14).attr('fill', '#fff').attr('stroke', '#ececec')
label(topBar, 'Trade', 968, 19, {size: 13.5})
topBar.append('rect').attr('x', 1006).attr('y', 5).attr('width', 69).attr('height', 28).attr('rx', 14).attr('fill', '#2a2a2a')
label(topBar, 'Publish', 1040.5, 19, {size: 13.5, fill: '#fff'})

// Left toolbar
const leftBar = svg.append('g')
icon(leftBar, 'M-8,8L8,-8', 26, 105)
;[[-8, 8], [8, -8]].forEach(([dx, dy]) => leftBar.append('circle').attr('cx', 26 + dx).attr('cy', 105 + dy).attr('r', 2).attr('fill', '#fff').attr('stroke', colors.ink))
icon(leftBar, 'M-12,-8h24M-12,-3h24M-12,3h24M-12,8h24', 26, 143)
icon(leftBar, 'M-8,9L-5,-8L3,3L9,-9L9,8ZM-8,9L3,3', 26, 181)
icon(leftBar, 'M-11,-8h12M-11,-2h22M-11,4h22M-11,9h12M0,-6v3', 26, 219)
icon(leftBar, 'M-9,8c0,-5 3,-5 5,-8c2,-3 5,-3 6,-1c1,2 -1,4 -3,5c-3,2 -6,2 -8,4M3,-3l7,-7', 26, 258)
icon(leftBar, 'M-7,-6v-2h14v2M0,-8v16M-3,8h6', 26, 295)
icon(leftBar, 'M9,0a9,9 0 1 1 -18,0a9,9 0 1 1 18,0M-4.5,3c2,3 7,3 9,0M-3,-2.5v.1M3,-2.5v.1', 26, 333)
icon(leftBar, 'M-10,5L5,-10L10,-5L-5,10ZM-6,1l2,2M-3,-2l3,3M0,-5l2,2M3,-8l3,3', 26, 383)
icon(leftBar, 'M6,0a7,7 0 1 1 -14,0a7,7 0 1 1 14,0M5,5l5,5M-4,0h6M-1,-3v6', 25, 421)
icon(leftBar, 'M-8,8v-7a8,8 0 0 1 16,0v7h-5v-7a3,3 0 0 0 -6,0v7zM-8,4h5M3,4h5', 26, 473)
icon(leftBar, 'M-9,9l1,-5l9,-9l4,4l-9,9zM4,2h7v7h-7zM5.5,2v-2a2,2 0 0 1 4,0v2', 26, 511)
icon(leftBar, 'M-7,-1h14v10h-14zM-4,-1v-4a4,4 0 0 1 8,-1M0,3v2', 26, 549)
icon(leftBar, 'M-10,0c5,-7 15,-7 20,0c-5,7 -15,7 -20,0M3,0a3,3 0 1 1 -6,0a3,3 0 1 1 6,0', 26, 587)
icon(leftBar, 'M-2,2l4,-4M-3,-1l3,-4a4,4 0 0 1 6,6l-3,3M3,1l-3,4a4,4 0 0 1 -6,-6l3,-3', 26, 625)
icon(leftBar, 'M-9,-6h18M-3,-6v-3h6v3M-7,-6l1,15h12l1,-15', 26, 676)
leftBar.append('rect').attr('x', 9).attr('y', 1025).attr('width', 34).attr('height', 34).attr('rx', 5).attr('fill', '#2a2a2a')
icon(leftBar, 'M0,-9l2.7,6l6.3,.7l-4.7,4.3l1.4,6.5l-5.7,-3.4l-5.7,3.4l1.4,-6.5l-4.7,-4.3l6.3,-.7z', 26, 1042, {stroke: '#fff'})

// Bottom bar
const bottomBar = svg.append('g')
ranges.forEach((t, k) => label(bottomBar, t, rangeX[k], 1061, {size: 13}))
bottomBar.append('line').attr('x1', 349).attr('x2', 349).attr('y1', 1050).attr('y2', 1074).attr('stroke', '#e3e3e8')
bottomBar.append('line').attr('x1', 985).attr('x2', 985).attr('y1', 1050).attr('y2', 1074).attr('stroke', '#e3e3e8')
icon(bottomBar, 'M-8,-6h16v16h-5M-8,-6v7M-8,-2h16M-4,-9v3M4,-9v3M-9,6h7M-5,3l3,3l-3,3', 371, 1061)
label(bottomBar, '22:53:14 UTC+8', 974, 1061, {size: 13.3, anchor: 'end'})
label(bottomBar, 'ADJ', 1008, 1061, {size: 13})

// Right toolbar
const rightBar = svg.append('g')
icon(rightBar, 'M-9,-11h18v22l-9,-3l-9,3zM-6,-6h12M-6,-2h12M-6,2h12', 1058, 66)
icon(rightBar, 'M9,0a9,9 0 1 1 -18,0a9,9 0 1 1 18,0M0,-5v6h-4M-8,-11l-4,3M8,-11l4,3', 1058, 112)
icon(rightBar, 'M0,-8l10,5l-10,5l-10,-5zM-10,2l10,5l10,-5', 1058, 158)
icon(rightBar, 'M-11,-9h22v16h-16l-6,5z', 1058, 204)
rightBar.append('circle').attr('cx', 1068).attr('cy', 192).attr('r', 8).attr('fill', '#f23645')
label(rightBar, '1', 1068, 192, {size: 10.5, fill: '#fff'})
icon(rightBar, 'M13,0a13,13 0 1 1 -26,0a13,13 0 1 1 26,0M8,0a8,8 0 1 1 -16,0a8,8 0 1 1 16,0M-3,4l7,-9', 1058, 772)
icon(rightBar, 'M-12,9l8,-14l4,6l4,-9l8,17zM-8,2l4,2l4,-3l4,3l4,-2', 1058, 816)
icon(rightBar, 'M-11,-8h22v18h-22zM-11,-3h22M-6,-11v5M6,-11v5', 1058, 860)
icon(rightBar, 'M-10,-6c9,0 16,7 16,16M-10,0c6,0 10,4 10,10M-8,8v.1', 1058, 908)
rightBar.append('rect').attr('x', 1047).attr('y', 888).attr('width', 29).attr('height', 15).attr('rx', 7.5).attr('fill', '#f23645')
label(rightBar, '99+', 1061.5, 895.5, {size: 10.5, fill: '#fff'})
icon(rightBar, 'M-9,6c2,-2 2,-4 2,-7a7,7 0 0 1 14,0c0,3 0,5 2,7zM-3,9a3,3 0 0 0 6,0', 1058, 954)
rightBar.append('rect').attr('x', 1053).attr('y', 934).attr('width', 23).attr('height', 15).attr('rx', 7.5).attr('fill', '#f23645')
label(rightBar, '59', 1064.5, 941.5, {size: 10.5, fill: '#fff'})
rightBar.append('circle').attr('cx', 1058).attr('cy', 998).attr('r', 17).attr('fill', '#2a2a2a')
d3.cross(d3.range(3), d3.range(3)).forEach(([r, c]) => rightBar.append('rect').attr('x', 1049 + c * 7).attr('y', 989 + r * 7).attr('width', 4.5).attr('height', 4.5).attr('rx', 1).attr('fill', '#fff'))
rightBar.append('line').attr('x1', 1040).attr('x2', 1076).attr('y1', 1026).attr('y2', 1026).attr('stroke', '#e3e3e8')
rightBar.append('circle').attr('cx', 1058).attr('cy', 1056).attr('r', 14).attr('fill', 'none').attr('stroke', colors.ink).attr('stroke-width', 1.2)
label(rightBar, '?', 1058, 1056, {size: 16})
</script>
</body>
</html>
